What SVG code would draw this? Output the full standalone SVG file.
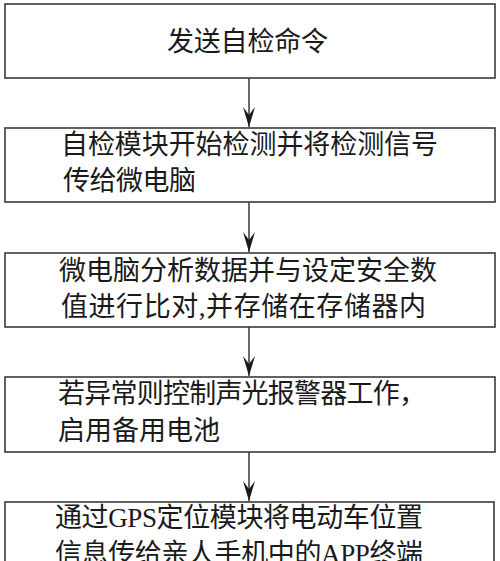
<svg xmlns="http://www.w3.org/2000/svg" width="500" height="561" viewBox="0 0 500 561">
<defs>
<style>
.box{fill:#fff;stroke:#3a3a3a;stroke-width:1.6}
.t{font-family:"Liberation Serif","Noto Sans CJK SC",sans-serif;font-size:27px;fill:#1a1a1a}
.c{stroke:#2a2a2a;stroke-width:1.4;fill:none}
</style>
<marker id="ah" markerUnits="userSpaceOnUse" markerWidth="24" markerHeight="16" refX="22" refY="8" orient="auto" viewBox="0 0 24 16">
<path d="M22,8 L2,2 L10,8 L2,14 Z" fill="#1a1a1a"/>
</marker>
</defs>
<rect width="500" height="561" fill="#fff"/>
<g id="connectors">
<line class="c" x1="249" y1="78" x2="249" y2="127" marker-end="url(#ah)"/>
<line class="c" x1="249" y1="202" x2="249" y2="252" marker-end="url(#ah)"/>
<line class="c" x1="249" y1="327" x2="249" y2="376" marker-end="url(#ah)"/>
<line class="c" x1="249" y1="452" x2="249" y2="501" marker-end="url(#ah)"/>
</g>
<g id="n1">
<rect class="box" x="5" y="4" width="490" height="74"/>
<text class="t" x="167" y="51" textLength="161" lengthAdjust="spacing">发送自检命令</text>
</g>
<g id="n2">
<rect class="box" x="5" y="128" width="490" height="74"/>
<text class="t" x="61" y="154" textLength="377" lengthAdjust="spacing">自检模块开始检测并将检测信号</text>
<text class="t" x="63" y="190" textLength="133" lengthAdjust="spacing">传给微电脑</text>
</g>
<g id="n3">
<rect class="box" x="5" y="253" width="490" height="74"/>
<text class="t" x="59" y="280" textLength="378" lengthAdjust="spacing">微电脑分析数据并与设定安全数</text>
<text class="t" x="61" y="316" textLength="365" lengthAdjust="spacing">值进行比对,并存储在存储器内</text>
</g>
<g id="n4">
<rect class="box" x="5" y="377" width="490" height="75"/>
<text class="t" x="58" y="403" textLength="368" lengthAdjust="spacing">若异常则控制声光报警器工作，</text>
<text class="t" x="58" y="440" textLength="162" lengthAdjust="spacing">启用备用电池</text>
</g>
<g id="n5">
<rect class="box" x="5" y="502" width="489" height="80"/>
<text class="t" x="55" y="527" textLength="368" lengthAdjust="spacing">通过GPS定位模块将电动车位置</text>
<text class="t" x="55" y="563" textLength="368" lengthAdjust="spacing">信息传给亲人手机中的APP终端</text>
</g>
</svg>
